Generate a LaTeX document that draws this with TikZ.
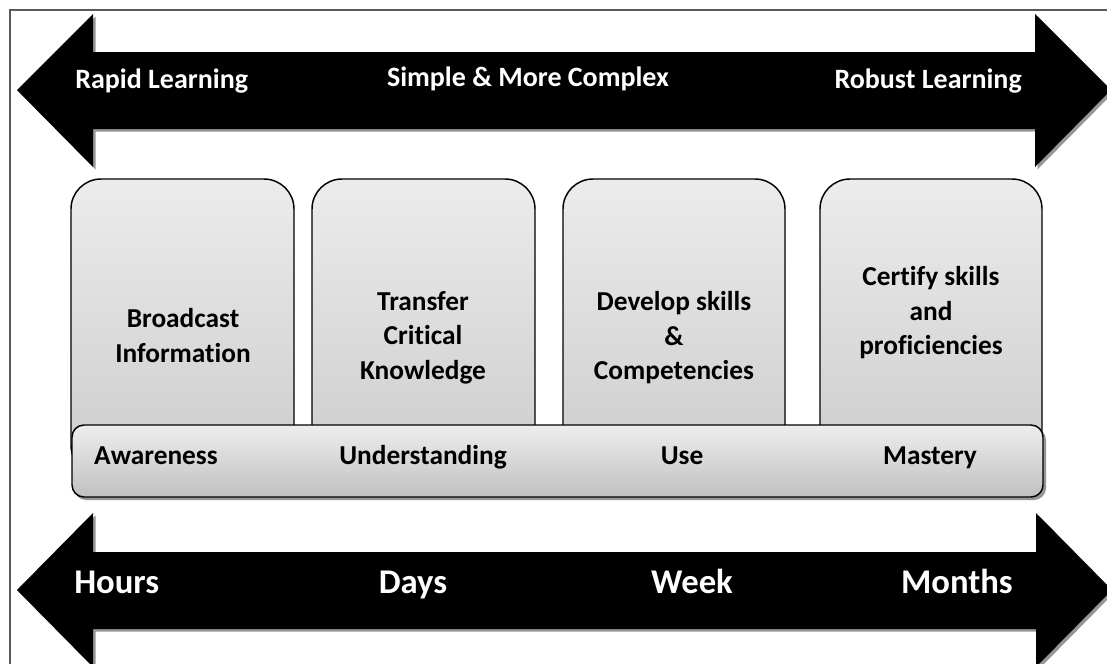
\documentclass[tikz,border=0pt]{standalone}
\usepackage{fontspec}
\setmainfont{Carlito}[RawFeature=-liga]
\definecolor{boxtop}{RGB}{236,236,236}
\definecolor{boxbot}{RGB}{204,204,204}
\definecolor{bartop}{RGB}{238,238,238}
\definecolor{barbot}{RGB}{192,192,192}
\definecolor{shadowgray}{RGB}{150,150,150}
\definecolor{framegray}{RGB}{90,90,90}
\tikzset{
  arrowbody/.style={fill=black},
  arrowshadow/.style={fill=shadowgray},
  stagebox/.style={draw=black, line width=1.1pt, top color=boxtop, bottom color=boxbot, rounded corners=22.5pt},
  levelbar/.style={draw=black, line width=1.1pt, top color=bartop, bottom color=barbot, rounded corners=9pt},
  toplbl/.style={text=white, inner sep=0pt, font=\bfseries\fontsize{21}{25}\selectfont},
  botlbl/.style={text=white, inner sep=0pt, font=\bfseries\fontsize{26}{31}\selectfont},
  boxlbl/.style={inner sep=0pt, align=center, anchor=north, font=\bfseries\fontsize{20.5}{26}\selectfont},
  barlbl/.style={inner sep=0pt, anchor=base, font=\bfseries\fontsize{20.5}{26}\selectfont}
}
\begin{document}
\begin{tikzpicture}[x=0.75pt,y=-0.75pt]
\useasboundingbox (0,0) rectangle (1107,664);
\clip (0,0) rectangle (1107,664);
\fill[white] (0,0) rectangle (1107,664);
\draw[framegray, line width=0.8pt] (10,10) rectangle (1130,690);

% top double arrow
\fill[arrowshadow, shift={(2.5,2.5)}] (17,90) -- (93,14) -- (93,52) -- (1035,52) -- (1035,14) -- (1111,90) -- (1035,167) -- (1035,129) -- (93,129) -- (93,167) -- cycle;
\fill[arrowbody] (17,90) -- (93,14) -- (93,52) -- (1035,52) -- (1035,14) -- (1111,90) -- (1035,167) -- (1035,129) -- (93,129) -- (93,167) -- cycle;
\node[toplbl, anchor=base west] (rapid) at (75,88) {Rapid Learning};
\node[toplbl, anchor=base] (simple) at (528,86) {Simple \& More Complex};
\node[toplbl, anchor=base east] (robust) at (1022,88) {Robust Learning};

% stage boxes
\draw[stagebox] (71,179) rectangle (294,475);
\draw[stagebox] (312,179) rectangle (535,475);
\draw[stagebox] (563,179) rectangle (785,475);
\draw[stagebox] (820,179) rectangle (1042,475);
\node[boxlbl] (b1) at (183,308) {Broadcast\\Information};
\node[boxlbl] (b2) at (423,291) {Transfer\\Critical\\Knowledge};
\node[boxlbl] (b3) at (674,291) {Develop skills\\\&\\Competencies};
\node[boxlbl] (b4) at (931,266) {Certify skills\\and\\proficiencies};

% level bar
\fill[shadowgray, rounded corners=9pt] (74,428) rectangle (1046,500);
\draw[levelbar] (72,425) rectangle (1043,497);
\node[barlbl] (aw) at (156,464) {Awareness};
\node[barlbl] (un) at (423,464) {Understanding};
\node[barlbl] (us) at (682,464) {Use};
\node[barlbl] (ma) at (930,464) {Mastery};

% bottom double arrow
\fill[arrowshadow, shift={(2.5,2.5)}] (17,590) -- (93,513) -- (93,552) -- (1036,552) -- (1036,513) -- (1112,590) -- (1036,667) -- (1036,629) -- (93,629) -- (93,667) -- cycle;
\fill[arrowbody] (17,590) -- (93,513) -- (93,552) -- (1036,552) -- (1036,513) -- (1112,590) -- (1036,667) -- (1036,629) -- (93,629) -- (93,667) -- cycle;
\node[botlbl, anchor=base west] (hours) at (74,593) {Hours};
\node[botlbl, anchor=base] (days) at (413,593) {Days};
\node[botlbl, anchor=base] (week) at (692,593) {Week};
\node[botlbl, anchor=base east] (months) at (1013,593) {Months};
\end{tikzpicture}
\end{document}
